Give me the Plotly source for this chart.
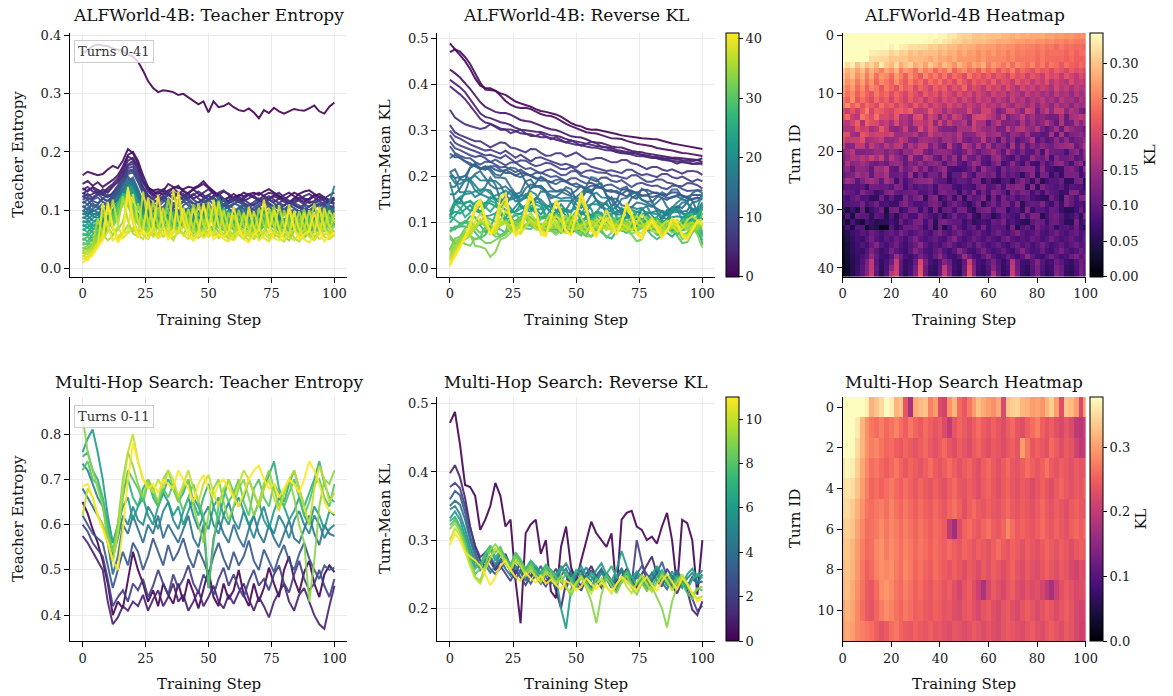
import numpy as np
import plotly.graph_objects as go
from plotly.colors import sample_colorscale

FONT = "DejaVu Serif"
W, H = 1173, 696

# Training steps (logged every 2 steps) and turn indices
STEPS = list(range(0, 101, 2))
ALF_TURNS = list(range(42))
MH_TURNS = list(range(12))

# ALFWorld-4B teacher entropy per turn (x1000), one row per turn
alf_entropy_milli = [
    [370,375,382,385,383,382,378,376,374,368,364,355,340,322,310,303,306,305,303,298,300,294,288,282,287,268,287,277,279,284,277,272,270,275,268,258,272,267,276,270,266,270,274,272,271,275,280,270,266,278,285],
    [160,166,163,160,162,170,176,172,185,205,198,180,150,138,134,136,133,145,140,138,136,140,138,142,150,140,132,125,118,116,122,126,124,128,130,126,132,136,130,125,118,112,120,128,132,134,128,122,120,118,122],
    [145,150,142,148,140,146,152,160,175,195,200,185,160,140,132,128,135,130,138,142,132,128,136,140,145,138,130,126,132,128,120,124,130,126,122,118,125,130,128,122,118,124,130,126,120,118,124,128,122,116,120],
    [138,132,140,135,130,138,145,155,170,192,188,170,150,136,128,132,126,134,138,130,124,130,136,128,122,126,132,124,118,122,128,122,116,120,126,130,124,118,114,120,126,130,124,118,114,120,126,122,116,112,118],
    [135,140,132,128,136,130,140,150,165,185,190,175,152,135,126,122,130,126,120,128,134,128,120,124,130,136,128,120,116,122,118,114,120,126,122,116,112,118,124,120,114,110,116,122,118,112,116,124,120,114,110],
    [128,134,138,130,126,134,142,148,160,178,185,172,148,132,124,130,136,128,122,130,128,120,126,132,126,118,124,130,134,126,118,116,122,128,124,118,114,120,126,130,122,116,112,118,124,128,122,116,120,126,130],
    [130,124,128,134,126,122,130,142,158,176,180,165,140,126,120,124,118,126,132,124,118,122,128,120,114,118,124,128,120,112,116,122,118,112,108,114,120,124,118,112,108,114,120,116,110,106,112,118,122,116,112],
    [122,128,120,126,132,124,128,138,152,172,175,160,138,124,118,114,122,128,120,116,122,126,118,112,118,124,120,114,110,116,122,118,112,108,114,120,116,110,106,112,118,114,108,104,110,116,112,106,110,116,120],
    [125,118,122,128,120,116,124,134,150,168,170,155,134,120,112,118,124,116,110,118,124,116,110,114,120,126,118,110,106,112,118,114,108,104,110,116,120,112,106,102,108,114,110,104,100,106,112,116,110,104,108],
    [118,122,116,112,120,126,122,132,148,165,168,152,130,116,110,106,114,120,112,108,114,120,112,106,110,116,122,114,108,104,110,116,112,106,100,106,112,118,112,104,100,106,112,108,102,98,104,110,114,108,104],
    [115,110,118,122,114,110,120,128,145,162,165,148,128,112,106,112,118,110,104,110,116,108,102,108,114,118,110,104,100,106,112,108,102,98,104,110,114,106,100,96,102,108,104,98,94,100,106,112,106,100,98],
    [112,118,106,110,120,114,126,138,150,158,146,130,118,104,110,98,106,116,102,96,108,114,100,94,104,112,98,106,118,102,96,104,110,100,94,106,98,92,104,112,100,94,102,96,108,98,92,100,106,98,104],
    [108,100,112,104,98,110,120,132,146,154,150,128,112,102,96,108,100,94,106,112,98,92,104,96,110,102,94,88,100,108,104,96,90,102,96,88,100,108,96,90,98,104,92,88,100,94,86,96,102,92,90],
    [104,110,98,102,112,106,116,128,142,150,156,136,114,100,106,94,102,112,96,90,104,98,92,106,114,100,94,102,120,104,92,98,108,96,88,100,104,92,98,86,96,102,90,98,94,88,100,92,96,104,100],
    [100,94,102,108,98,104,112,124,138,148,142,126,110,98,104,112,100,94,108,100,92,100,108,96,90,98,106,94,88,100,96,104,92,86,98,94,102,90,84,96,102,92,88,96,90,98,92,86,94,100,94],
    [98,104,94,92,104,100,108,120,136,146,152,134,108,96,92,100,104,94,100,88,96,102,92,88,100,108,96,124,102,92,88,96,102,94,86,92,100,96,88,94,100,90,86,94,98,88,84,92,98,104,96],
    [95,90,100,96,92,102,110,118,132,144,146,124,106,94,100,92,98,106,94,88,98,104,90,86,96,102,94,88,84,96,102,92,86,94,88,82,96,100,90,84,92,98,88,82,90,96,86,92,98,88,90],
    [92,98,90,86,96,104,100,114,134,150,140,122,104,96,90,86,96,100,92,88,94,100,90,84,92,98,104,118,94,88,84,92,98,90,84,80,90,96,100,88,84,80,90,94,88,84,80,88,94,100,92],
    [88,84,92,96,86,90,98,112,128,138,145,128,104,94,88,96,100,90,86,94,98,88,84,90,96,102,92,84,80,90,96,90,82,86,94,88,80,92,96,86,80,88,94,84,78,86,92,96,88,82,86],
    [86,90,82,80,88,96,94,108,130,145,136,116,100,92,86,82,90,96,88,84,90,96,86,80,86,92,98,116,92,86,80,88,94,86,80,76,86,92,96,84,80,76,86,90,84,78,74,82,90,112,142],
    [82,78,86,92,82,86,96,106,122,140,132,114,98,90,84,92,98,88,82,90,94,84,80,86,94,98,88,82,78,86,92,86,80,76,84,90,94,84,78,74,82,88,80,76,72,80,86,92,84,78,82],
    [78,82,74,72,82,90,88,100,124,140,128,110,96,88,80,76,86,92,84,80,86,92,82,76,80,88,94,112,86,80,76,84,90,82,76,72,80,86,92,82,76,72,80,86,82,74,70,78,84,90,84],
    [75,70,78,86,76,80,90,100,118,132,136,116,94,86,80,86,92,84,78,84,90,80,76,82,90,94,84,78,74,82,86,80,74,70,78,86,90,80,74,70,78,84,78,72,68,76,82,88,80,74,78],
    [72,76,68,68,78,88,86,98,122,135,126,106,92,84,78,74,82,88,80,76,82,88,78,72,78,84,90,110,84,78,72,80,86,80,72,70,76,82,88,78,72,68,76,82,78,70,66,74,80,86,80],
    [68,62,72,80,72,76,86,96,114,130,134,110,90,82,76,82,88,80,74,80,86,76,72,78,86,90,80,74,70,78,82,76,70,66,74,80,86,76,70,66,74,80,74,68,64,72,78,84,76,70,74],
    [65,70,62,62,74,84,82,96,118,132,122,104,88,80,74,70,78,84,76,72,78,84,74,68,74,80,86,106,80,72,68,76,82,76,70,66,72,78,84,74,68,64,72,78,74,66,62,70,76,82,76],
    [60,56,66,74,70,84,96,110,124,118,104,92,86,78,94,82,72,88,96,80,74,90,100,84,70,78,92,86,76,98,88,74,82,94,80,70,86,96,78,72,84,92,76,68,80,90,82,72,86,78,74],
    [56,60,52,58,72,80,90,104,120,128,110,94,80,72,84,96,82,76,70,86,98,82,72,80,88,74,68,84,104,90,76,70,80,92,84,72,78,70,88,96,80,70,76,88,78,66,74,84,92,80,76],
    [52,46,58,68,62,76,92,112,128,122,98,84,90,76,68,80,92,78,70,84,96,78,66,74,88,98,80,70,66,80,90,76,70,84,74,66,82,94,80,70,76,88,72,64,78,86,74,68,82,90,72],
    [48,54,46,50,66,78,86,100,118,130,106,88,76,70,64,78,90,98,82,70,76,86,72,66,80,92,84,104,78,68,74,86,80,70,64,78,92,84,72,66,80,72,64,76,88,80,70,62,76,84,78],
    [44,40,52,62,58,72,90,108,122,116,92,80,70,84,96,76,66,80,72,90,84,68,76,94,82,70,64,78,90,74,66,82,92,76,68,62,80,88,72,64,76,86,70,62,74,84,78,66,72,86,70],
    [40,44,38,46,64,80,74,96,116,124,102,84,72,66,78,70,88,98,76,64,72,86,74,62,70,82,94,108,78,64,58,72,86,76,66,60,74,88,80,68,62,76,84,70,60,72,80,68,64,82,76],
    [36,32,44,58,54,68,84,100,114,108,88,76,70,64,84,94,74,62,70,86,92,72,60,68,80,94,76,62,56,72,88,76,62,56,70,84,92,74,60,54,68,82,72,58,54,66,80,90,74,62,64],
    [34,38,32,42,62,78,70,88,110,118,96,80,70,62,56,72,90,80,66,60,74,86,72,58,64,78,92,106,76,60,54,68,86,74,58,52,64,80,92,72,60,54,66,84,74,58,50,62,78,88,80],
    [30,34,42,52,96,70,58,66,80,118,84,62,70,58,76,104,72,54,62,70,58,74,110,76,56,64,72,100,68,52,60,74,56,98,70,54,62,76,108,70,56,48,64,72,102,66,54,60,96,68,62],
    [28,24,36,50,62,104,66,52,60,74,62,112,74,56,66,58,70,120,80,60,98,70,54,62,58,72,106,74,56,62,54,100,72,58,50,64,110,72,54,60,66,58,98,70,52,60,64,106,70,56,74],
    [25,30,38,86,58,48,56,72,124,82,60,54,68,112,70,52,60,74,62,118,76,56,48,64,108,72,56,60,52,96,70,58,50,62,54,104,74,56,64,58,100,70,52,46,60,68,112,76,54,50,58],
    [22,18,30,44,58,110,72,50,62,126,80,58,50,66,116,72,54,60,48,64,72,102,66,52,60,114,70,52,58,50,92,64,56,48,62,70,58,104,72,52,46,58,66,98,70,54,48,62,70,100,80],
    [20,26,32,44,50,62,118,74,52,60,70,56,132,78,54,60,104,70,52,64,58,50,66,112,74,54,62,56,100,68,50,60,96,66,52,58,64,50,62,108,72,54,48,60,66,100,68,50,58,62,96],
    [18,14,26,40,56,108,70,50,58,64,128,80,58,50,64,56,70,60,136,82,56,60,104,70,52,58,62,116,74,54,48,60,66,54,98,68,52,46,60,56,62,110,70,52,96,66,50,58,104,72,54],
    [15,20,28,36,112,70,48,56,62,134,78,56,66,122,76,52,60,54,66,62,104,70,50,58,62,56,118,74,50,46,58,64,52,106,70,48,56,62,100,68,50,58,96,66,50,44,58,104,70,52,60],
    [10,16,22,36,48,114,70,44,56,140,86,54,62,58,70,126,72,50,60,132,84,56,48,62,112,72,50,58,54,64,106,70,50,44,58,66,118,74,52,48,62,102,68,50,58,64,96,66,46,56,62],
]

# ALFWorld-4B turn-mean reverse KL per turn and step (x1000)
alf_kl_milli = [
    [489,478,462,452,436,410,396,388,398,384,378,382,368,364,356,360,348,350,338,344,336,338,328,326,314,310,312,302,300,304,300,296,298,290,292,284,290,282,286,280,281,284,276,276,270,272,266,268,262,262,260],
    [470,482,470,462,444,428,402,384,386,394,372,366,352,354,344,354,346,340,338,328,336,326,322,312,312,302,304,294,294,296,288,288,280,284,282,278,272,274,266,272,264,264,256,262,254,256,248,254,246,248,245],
    [432,426,414,406,388,380,356,354,342,344,332,344,332,330,320,322,318,318,306,310,298,306,294,294,284,288,284,284,272,276,272,272,262,266,262,262,252,256,252,252,244,252,242,246,236,246,236,240,236,238,232],
    [410,404,392,388,366,356,332,330,326,326,312,322,308,310,296,306,294,300,296,296,284,294,282,286,272,282,270,274,262,272,260,270,258,262,250,260,248,252,246,248,238,248,236,240,240,238,232,240,228,238,240],
    [396,390,376,372,352,344,320,318,314,314,300,304,302,302,290,294,292,290,280,292,280,284,272,282,268,270,268,268,258,268,256,258,256,256,246,256,244,246,244,244,236,246,234,236,234,234,228,236,224,228,230],
    [345,318,332,300,322,296,314,290,330,305,292,318,280,300,312,284,296,276,305,288,270,296,282,262,290,274,256,280,268,286,250,272,258,244,266,236,260,252,238,256,232,250,226,244,236,218,240,230,222,236,226],
    [312,286,300,274,296,262,288,270,252,280,264,290,246,270,258,238,276,250,262,232,256,240,268,228,250,262,236,246,224,254,230,248,218,240,226,252,214,236,222,206,232,214,224,200,226,212,196,222,206,216,204],
    [300,276,296,262,284,250,278,240,268,258,236,270,250,226,262,240,218,256,232,248,222,244,210,238,226,204,246,218,230,208,228,200,222,212,194,230,206,218,190,214,204,186,220,198,208,182,212,194,178,204,190],
    [290,262,280,248,274,240,266,230,258,244,226,262,236,218,250,224,240,206,238,220,242,210,228,200,236,214,194,226,206,218,196,224,188,210,200,182,218,194,206,176,198,184,210,172,194,180,168,200,176,188,174],
    [276,250,272,236,262,226,256,244,216,250,232,210,246,220,236,200,230,214,192,228,206,224,188,214,200,232,184,208,196,176,212,190,200,174,206,184,164,198,178,192,168,190,176,160,196,170,184,156,180,166,170],
    [266,240,258,226,252,230,214,246,224,236,206,232,216,198,228,206,190,222,200,214,186,212,196,178,210,188,200,172,196,182,164,194,176,186,158,182,170,150,186,162,176,154,170,146,180,158,166,144,172,154,160],
    [250,228,262,216,240,222,204,236,212,226,196,228,208,190,222,198,212,182,206,194,176,204,188,198,168,196,180,162,194,172,184,158,180,166,148,186,160,172,146,168,156,178,150,164,140,174,152,160,138,166,150],
    [240,262,226,246,210,236,220,200,238,214,224,196,216,204,186,220,192,208,178,200,190,170,204,182,194,164,188,176,158,190,168,178,154,182,160,146,176,166,150,172,142,168,156,136,170,150,160,134,164,146,154],
    [203,187,211,187,219,251,195,227,219,203,194,218,226,210,226,178,170,178,218,186,184,152,184,168,160,160,200,160,152,192,194,162,122,138,186,186,154,130,194,178,120,160,184,136,184,184,136,168,152,120,106],
    [210,234,186,170,242,226,202,242,202,202,186,218,162,170,146,202,210,154,194,178,129,177,145,193,177,145,129,193,201,201,180,164,132,180,116,140,148,180,132,156,130,138,122,114,114,162,106,154,162,178,164],
    [178,170,194,226,162,226,210,202,170,186,155,203,155,163,139,187,187,171,195,139,194,146,186,154,154,170,122,194,162,162,110,150,174,126,126,134,118,166,126,150,124,140,172,132,100,164,108,116,164,132,158],
    [162,162,162,210,186,194,154,170,218,186,140,132,148,188,132,140,204,156,196,172,132,124,124,116,156,156,156,188,164,148,136,152,120,120,176,136,168,176,144,136,166,118,94,118,158,102,166,142,126,126,106],
    [210,210,154,146,218,202,186,194,194,186,196,148,148,156,156,172,132,140,188,156,166,150,158,142,174,126,134,134,166,174,146,154,162,122,106,146,138,114,154,106,106,90,98,162,90,162,98,122,130,138,118],
    [202,178,186,186,210,154,162,170,186,138,142,150,182,166,126,118,150,158,150,142,120,152,152,136,168,120,112,128,128,176,116,140,92,148,108,140,92,108,124,164,92,116,92,100,140,108,140,100,116,124,144],
    [188,132,132,180,180,132,180,156,140,172,152,176,176,120,168,144,176,176,120,152,116,100,172,116,100,172,148,116,164,116,164,108,132,124,92,164,100,148,100,132,112,136,120,112,136,144,152,160,104,128,164],
    [124,148,172,124,124,132,132,148,148,124,146,130,106,146,138,170,170,122,106,138,142,142,134,110,102,118,158,126,102,126,134,158,126,94,158,118,94,126,94,94,130,82,154,114,106,106,82,122,138,98,140],
    [116,140,164,156,172,156,188,156,188,124,172,140,124,100,172,116,108,164,148,108,96,144,112,152,96,160,112,104,136,96,88,136,152,104,88,80,120,88,88,144,116,108,140,76,132,108,108,124,92,100,134],
    [108,164,132,140,156,140,116,108,124,108,140,148,140,100,132,116,148,116,132,140,130,90,130,138,98,82,114,154,138,90,82,114,138,74,90,138,98,74,122,74,70,118,86,102,134,142,102,78,126,142,72],
    [116,140,100,140,140,132,100,156,148,172,102,94,150,110,126,158,110,142,94,110,132,148,84,76,76,84,100,132,84,148,116,108,76,124,100,116,108,124,132,132,80,136,88,80,64,72,120,128,104,72,136],
    [100,116,124,156,140,148,100,148,140,164,104,104,120,96,152,80,128,88,120,120,94,142,70,102,102,142,102,78,126,126,110,126,78,118,94,110,94,62,102,134,66,122,114,66,98,66,122,122,122,74,98],
    [116,156,140,92,124,148,156,140,100,156,138,74,122,82,106,130,138,138,146,106,96,96,64,88,104,104,88,120,120,64,96,64,56,88,96,56,104,128,104,64,116,52,76,92,92,108,60,60,116,124,52],
    [82,98,90,90,98,66,114,114,106,106,92,132,124,76,108,84,100,92,108,76,122,114,114,82,74,90,82,74,114,130,88,96,120,80,128,120,136,128,64,136,62,126,102,94,86,102,70,94,86,86,62],
    [116,108,100,84,132,108,100,68,84,124,136,104,96,104,112,120,88,88,104,72,118,126,110,110,62,110,86,134,78,118,84,132,116,100,60,124,100,124,116,76,106,74,114,98,90,66,74,130,130,82,82],
    [90,76,100,116,84,84,60,60,116,68,102,70,70,126,94,118,134,62,118,134,60,84,116,68,116,60,116,92,100,132,58,122,74,122,90,106,82,98,106,82,72,64,56,112,88,56,128,104,80,128,128],
    [80,88,94,94,118,78,94,118,78,86,68,68,116,132,100,84,84,92,116,124,106,66,98,122,98,82,58,90,122,58,96,120,88,120,120,80,128,56,96,104,102,126,86,70,110,70,126,102,78,86,70],
    [72,40,72,40,104,40,72,88,112,40,114,122,66,82,122,122,74,106,66,122,56,104,112,80,120,120,72,56,104,120,126,86,118,118,62,86,94,62,126,70,92,92,76,108,100,68,52,52,76,108,68],
    [42,90,42,106,98,98,58,98,90,50,88,56,96,112,80,80,128,104,88,72,102,62,86,118,86,86,118,70,54,102,92,52,76,108,92,84,68,124,84,124,122,50,82,106,114,90,66,74,98,58,122],
    [66,34,82,50,34,82,66,50,58,58,78,62,110,78,94,118,126,78,110,54,116,124,108,100,100,68,92,60,68,84,74,106,98,122,74,90,74,58,50,98,112,104,72,104,112,88,56,56,120,64,88],
    [40,82,42,90,90,26,58,50,18,18,92,52,76,108,108,116,100,68,108,52,114,50,82,122,90,74,98,106,74,122,72,96,96,96,64,120,48,88,104,72,118,94,86,102,62,86,94,78,110,70,46],
    [36,52,68,80,96,84,110,96,78,92,104,88,120,100,82,96,112,90,80,108,124,96,84,100,118,92,80,96,110,88,76,98,114,92,82,100,124,96,84,92,108,86,78,96,112,90,80,98,106,84,92],
    [30,46,62,78,70,92,116,90,74,98,86,110,94,78,100,126,96,82,92,104,86,80,108,130,94,78,90,112,96,82,100,88,76,104,120,90,80,94,86,108,98,80,92,116,94,82,90,104,88,80,100],
    [26,40,58,74,88,76,104,128,92,76,96,114,88,74,92,108,138,100,80,94,82,100,120,92,76,88,104,84,118,96,80,92,106,86,74,98,112,88,102,80,94,116,92,78,88,100,84,96,112,86,96],
    [22,36,56,70,64,88,124,98,72,84,120,96,80,70,96,130,108,84,76,98,118,88,74,94,138,104,80,72,96,122,92,78,88,108,84,72,100,132,96,80,86,104,82,74,96,120,90,78,88,110,94],
    [18,34,52,66,80,94,140,104,74,70,92,150,112,80,68,88,120,96,78,104,136,100,76,70,92,148,110,82,74,98,126,94,72,84,110,90,74,96,138,102,78,72,94,116,92,76,82,108,126,96,106],
    [14,30,50,64,86,120,176,96,62,78,110,184,100,64,72,104,200,120,80,66,90,130,108,72,64,100,192,116,78,70,94,122,88,66,86,170,104,74,68,96,128,92,70,78,110,96,72,64,88,112,100],
    [10,28,48,66,92,126,180,102,58,82,136,190,96,60,76,118,210,112,70,62,98,180,120,74,60,106,205,124,76,64,88,132,94,62,80,182,110,70,58,90,120,86,62,74,122,104,66,58,84,116,98],
    [6,26,46,70,96,132,186,98,54,86,170,196,92,56,80,124,216,108,64,58,102,186,126,70,56,110,212,128,72,60,84,165,98,58,76,190,116,66,54,86,124,82,58,70,130,108,62,54,80,120,96],
]

# Multi-Hop Search teacher entropy per turn (x1000)
mh_entropy_milli = [
    [650,625,590,560,520,470,400,430,415,480,540,500,470,430,455,420,470,445,425,470,430,480,450,415,460,500,440,420,470,435,455,500,445,420,470,430,460,505,470,440,500,530,480,450,495,520,470,440,490,510,495],
    [575,560,540,520,500,430,380,395,420,410,430,420,445,410,435,455,420,440,470,430,445,410,430,455,420,440,465,430,415,445,425,450,470,435,410,440,420,395,430,450,470,430,410,445,460,430,400,380,370,420,465],
    [600,585,560,545,530,480,420,440,455,430,470,455,480,440,465,500,470,445,490,460,480,510,470,450,490,470,445,480,505,465,490,460,440,475,500,465,480,455,490,510,470,450,490,520,480,455,470,500,465,440,480],
    [620,600,580,570,560,510,460,500,540,510,560,540,500,530,570,540,510,555,520,540,570,530,505,545,520,490,530,560,525,500,540,510,530,565,520,500,545,520,495,530,555,520,500,535,560,525,500,480,510,500,505],
    [680,660,640,620,600,560,490,530,600,580,620,590,560,600,580,620,570,600,580,560,590,620,570,550,600,460,570,610,580,560,600,570,550,590,620,580,560,600,570,550,580,610,570,560,590,620,580,555,600,580,575],
    [735,720,690,660,640,590,530,570,620,600,640,610,600,640,620,590,630,650,610,590,630,660,620,590,620,640,600,580,620,650,610,590,630,600,570,610,640,600,580,620,600,570,610,630,600,580,620,600,570,590,600],
    [760,790,810,760,700,620,560,600,640,660,610,640,660,620,600,640,670,650,620,640,600,630,660,640,610,590,640,660,620,600,640,660,630,600,620,650,610,590,630,660,640,610,630,660,620,600,640,620,590,630,620],
    [750,760,720,700,660,600,540,600,680,700,660,640,680,700,660,640,670,700,680,650,670,700,650,620,660,690,640,610,660,700,670,640,660,700,670,640,680,710,740,680,650,690,720,680,640,670,700,740,690,660,650],
    [720,740,700,690,650,560,520,580,660,720,700,680,650,690,670,640,680,660,690,660,630,660,690,650,620,460,560,640,680,650,670,700,650,620,680,700,660,640,690,670,640,670,700,660,620,650,690,700,660,640,690],
    [840,760,720,680,640,580,540,600,700,760,730,690,660,700,680,650,700,720,680,650,680,700,640,600,560,620,680,700,650,610,640,680,700,660,620,650,690,720,680,640,670,700,660,600,560,430,520,640,700,690,720],
    [620,680,660,620,600,560,520,580,680,760,800,740,700,690,670,700,680,720,700,660,690,720,680,650,690,710,670,640,680,700,660,690,720,700,670,640,680,700,660,630,670,700,720,680,640,600,680,730,700,650,670],
    [685,690,660,620,590,560,520,500,590,700,780,740,700,680,690,670,700,690,680,720,700,680,650,690,710,680,660,690,700,680,660,640,670,700,720,730,700,680,690,660,680,700,690,670,700,740,720,690,650,630,625],
]

# Multi-Hop Search turn-mean reverse KL per turn (x1000)
mh_kl_milli = [
    [472,488,440,381,378,365,315,330,350,384,365,320,330,240,178,310,323,330,280,300,225,215,290,320,260,240,270,300,327,310,300,290,310,224,330,340,343,320,315,300,305,295,320,340,300,230,330,325,300,220,300],
    [398,410,392,362,320,290,270,262,275,258,268,280,262,250,270,256,244,262,250,238,248,226,200,238,256,244,232,250,262,246,236,252,240,228,246,258,240,230,250,262,276,250,236,248,232,222,240,226,198,190,210],
    [378,384,376,350,318,292,275,282,268,256,262,250,240,256,244,234,248,258,242,232,246,258,240,228,250,236,226,244,256,240,230,246,238,226,240,252,236,300,268,240,252,240,232,258,246,230,244,236,214,196,204],
    [360,372,366,340,306,282,262,270,258,250,258,270,254,242,256,246,236,250,262,246,236,250,262,248,234,246,256,240,230,248,258,244,232,246,258,242,236,250,262,250,240,252,268,246,236,250,240,232,246,236,240],
    [350,358,352,330,300,276,256,264,252,262,272,258,248,262,252,240,256,246,236,252,242,232,248,258,242,236,250,240,228,244,256,242,230,244,254,240,232,246,238,226,240,252,238,228,244,256,242,232,244,236,250],
    [345,350,338,316,290,268,262,270,276,264,280,266,256,270,260,248,262,252,244,258,250,240,256,266,252,232,248,260,246,238,252,242,236,248,258,244,236,250,242,232,246,258,244,234,248,240,230,244,252,240,238],
    [332,342,330,306,282,262,266,274,286,270,282,274,262,276,266,256,268,258,250,262,256,246,200,170,228,252,262,248,240,256,266,250,240,256,284,262,244,254,246,238,250,262,248,240,254,242,234,250,258,246,256],
    [328,334,320,300,276,258,264,282,292,274,286,276,264,280,270,258,270,262,252,264,256,248,260,250,240,256,248,236,252,244,236,250,262,246,238,254,246,234,248,240,232,246,256,244,236,248,240,228,242,250,244],
    [322,330,318,296,270,250,258,278,290,282,290,272,262,282,272,256,266,254,246,262,254,246,238,252,242,230,246,238,226,244,234,248,240,228,242,254,236,226,244,232,226,240,252,238,230,244,236,222,214,230,226],
    [316,326,312,290,266,246,240,262,286,294,284,268,258,276,266,252,262,248,240,256,250,238,248,232,218,236,248,230,210,178,220,244,232,222,238,248,230,220,236,226,232,216,200,172,210,232,246,234,220,228,232],
    [300,318,306,284,262,244,236,256,274,288,280,266,256,270,262,248,256,246,238,252,246,236,242,230,224,238,246,232,222,236,244,232,222,236,246,232,222,238,248,236,224,236,248,240,226,238,250,236,222,214,218],
    [293,310,300,282,276,270,262,250,234,246,262,270,256,246,240,252,244,238,248,236,242,234,228,240,236,226,232,244,236,228,238,230,224,236,246,240,232,226,238,246,234,226,240,250,238,228,244,236,222,210,214],
]

for _name, _block in [("alf_entropy", alf_entropy_milli), ("alf_kl", alf_kl_milli),
                      ("mh_entropy", mh_entropy_milli), ("mh_kl", mh_kl_milli)]:
    for _i, _row in enumerate(_block):
        assert len(_row) == len(STEPS), (_name, _i, len(_row))

alf_entropy = np.array(alf_entropy_milli) / 1000.0
alf_kl = np.array(alf_kl_milli) / 1000.0
mh_entropy = np.array(mh_entropy_milli) / 1000.0
mh_kl = np.array(mh_kl_milli) / 1000.0


def smooth_121(y):
    """Light [1, 2, 1] smoothing for the per-step curves (end points kept)."""
    out = y.copy()
    out[1:-1] = 0.25 * y[:-2] + 0.5 * y[1:-1] + 0.25 * y[2:]
    return out


def fx(px):
    return px / W


def fy(px):
    return 1 - px / H


# Panel geometry in pixels: (left, right) columns and (top, bottom) rows
COLS = [(70, 347), (437.3, 715), (842.7, 1085.7)]
ROWS = [(32.8, 276.7), (397, 641)]

TICKFONT = dict(family=FONT, size=13, color="#1a1a1a")
LABELFONT = dict(family=FONT, size=15, color="#111111")


def axis(domain, rng, tickvals, fmt=None, grid=True):
    d = dict(domain=domain, range=rng, tickvals=tickvals, showline=True,
             linecolor="black", linewidth=1.2, ticks="outside", ticklen=5,
             tickwidth=1.1, tickcolor="black", tickfont=TICKFONT,
             showgrid=grid, gridcolor="#ebebeb", gridwidth=1, zeroline=False)
    if fmt:
        d["tickformat"] = fmt
    return d


fig = go.Figure()

panels = [
    # (xaxis id, yaxis id, data, y range, y ticks, y fmt, smooth curves)
    ("x", "y", alf_entropy, [-0.0145, 0.405], [0, 0.1, 0.2, 0.3, 0.4], ".1f", False),
    ("x2", "y2", alf_kl, [-0.017, 0.512], [0, 0.1, 0.2, 0.3, 0.4, 0.5], ".1f", True),
    ("x4", "y4", mh_entropy, [0.343, 0.882], [0.4, 0.5, 0.6, 0.7, 0.8], ".1f", False),
    ("x5", "y5", mh_kl, [0.152, 0.51], [0.2, 0.3, 0.4, 0.5], ".1f", False),
]

for xa, ya, data, _, _, _, smooth in panels:
    n = data.shape[0]
    colors = sample_colorscale("Viridis", [i / (n - 1) for i in range(n)])
    for i in range(n):
        yv = smooth_121(data[i]) if smooth else data[i]
        fig.add_trace(go.Scatter(
            x=STEPS, y=yv, mode="lines", xaxis=xa, yaxis=ya,
            line=dict(color=colors[i], width=2), opacity=0.9,
            showlegend=False, hoverinfo="skip"))


def cbar(row, x_px, tickvals, fmt=None, title=None):
    top, bot = ROWS[row]
    cb = dict(x=fx(x_px), xanchor="left", y=fy((top + bot) / 2), yanchor="middle",
              len=(bot - top) / H, lenmode="fraction", thickness=13,
              thicknessmode="pixels", xpad=0, ypad=0, outlinewidth=1,
              outlinecolor="black", ticks="outside", ticklen=4, tickwidth=1,
              tickcolor="black", tickvals=tickvals, tickfont=TICKFONT)
    if fmt:
        cb["tickformat"] = fmt
    if title:
        cb["title"] = dict(text=title, side="right", font=LABELFONT)
    return cb


# Turn-index colorbars for the line panels
fig.add_trace(go.Scatter(
    x=[None], y=[None], mode="markers", xaxis="x2", yaxis="y2", showlegend=False,
    hoverinfo="skip",
    marker=dict(color=[0], colorscale="Viridis", cmin=0, cmax=41, showscale=True,
                colorbar=cbar(0, 726, [0, 10, 20, 30, 40]))))
fig.add_trace(go.Scatter(
    x=[None], y=[None], mode="markers", xaxis="x5", yaxis="y5", showlegend=False,
    hoverinfo="skip",
    marker=dict(color=[0], colorscale="Viridis", cmin=0, cmax=11, showscale=True,
                colorbar=cbar(1, 726, [0, 2, 4, 6, 8, 10]))))

# KL heatmaps (turn x step, unsmoothed values)
fig.add_trace(go.Heatmap(
    z=alf_kl, x=STEPS, y=ALF_TURNS, xaxis="x3", yaxis="y3", colorscale="Magma",
    zmin=0, zmax=0.343, zsmooth=False, hoverinfo="skip",
    colorbar=cbar(0, 1090, [0, 0.05, 0.10, 0.15, 0.20, 0.25, 0.30], ".2f", "KL")))
fig.add_trace(go.Heatmap(
    z=mh_kl, x=STEPS, y=MH_TURNS, xaxis="x6", yaxis="y6", colorscale="Magma",
    zmin=0, zmax=0.378, zsmooth=False, hoverinfo="skip",
    colorbar=cbar(1, 1090, [0, 0.1, 0.2, 0.3], ".1f", "KL")))

layout = dict(width=W, height=H, margin=dict(l=0, r=0, t=0, b=0, autoexpand=False),
              paper_bgcolor="white", plot_bgcolor="white",
              font=dict(family=FONT, color="#111111"))

xticks_line = [0, 25, 50, 75, 100]
xticks_heat = [0, 20, 40, 60, 80, 100]
for r, (top, bot) in enumerate(ROWS):
    ydom = [fy(bot), fy(top)]
    for c, (left, right) in enumerate(COLS):
        k = r * 3 + c + 1
        xname = "xaxis" if k == 1 else f"xaxis{k}"
        yname = "yaxis" if k == 1 else f"yaxis{k}"
        xdom = [fx(left), fx(right)]
        anchor_y = "y" if k == 1 else f"y{k}"
        anchor_x = "x" if k == 1 else f"x{k}"
        if c < 2:
            p = panels[r * 2 + c]
            xa = axis(xdom, [-5, 105], xticks_line)
            ya = axis(ydom, p[3], p[4], p[5])
        else:
            xa = axis(xdom, [0, 100], xticks_heat, grid=False)
            if r == 0:
                ya = axis(ydom, [41.5, -0.5], [0, 10, 20, 30, 40], grid=False)
            else:
                ya = axis(ydom, [11.5, -0.5], [0, 2, 4, 6, 8, 10], grid=False)
        xa["anchor"] = anchor_y
        ya["anchor"] = anchor_x
        layout[xname] = xa
        layout[yname] = ya

annotations = []
titles = [["ALFWorld-4B: Teacher Entropy", "ALFWorld-4B: Reverse KL", "ALFWorld-4B Heatmap"],
          ["Multi-Hop Search: Teacher Entropy", "Multi-Hop Search: Reverse KL", "Multi-Hop Search Heatmap"]]
ylabels = ["Teacher Entropy", "Turn-Mean KL", "Turn ID"]
ylabel_x = [18, 385, 795]
title_y = [15, 382]
xlabel_y = [320, 684]
for r, (top, bot) in enumerate(ROWS):
    for c, (left, right) in enumerate(COLS):
        cx = (left + right) / 2
        annotations.append(dict(text=titles[r][c], x=fx(cx), y=fy(title_y[r]),
                                xref="paper", yref="paper", xanchor="center",
                                yanchor="middle", showarrow=False,
                                font=dict(family=FONT, size=17, color="#111111")))
        annotations.append(dict(text="Training Step", x=fx(cx), y=fy(xlabel_y[r]),
                                xref="paper", yref="paper", xanchor="center",
                                yanchor="middle", showarrow=False, font=LABELFONT))
        annotations.append(dict(text=ylabels[c], x=fx(ylabel_x[c]), y=fy((top + bot) / 2),
                                xref="paper", yref="paper", xanchor="center",
                                yanchor="middle", textangle=-90, showarrow=False,
                                font=LABELFONT))

# Turn-range boxes in the entropy panels
for r, label in enumerate(["Turns 0-41", "Turns 0-11"]):
    annotations.append(dict(text=label, x=fx(74), y=fy(ROWS[r][0] + 7.5),
                            xref="paper", yref="paper", xanchor="left", yanchor="top",
                            showarrow=False, bgcolor="rgba(255,255,255,0.8)",
                            bordercolor="#cccccc", borderwidth=1, borderpad=3,
                            font=dict(family=FONT, size=13, color="#333333")))

layout["annotations"] = annotations
fig.update_layout(**layout)

fig.write_html("out.html")
